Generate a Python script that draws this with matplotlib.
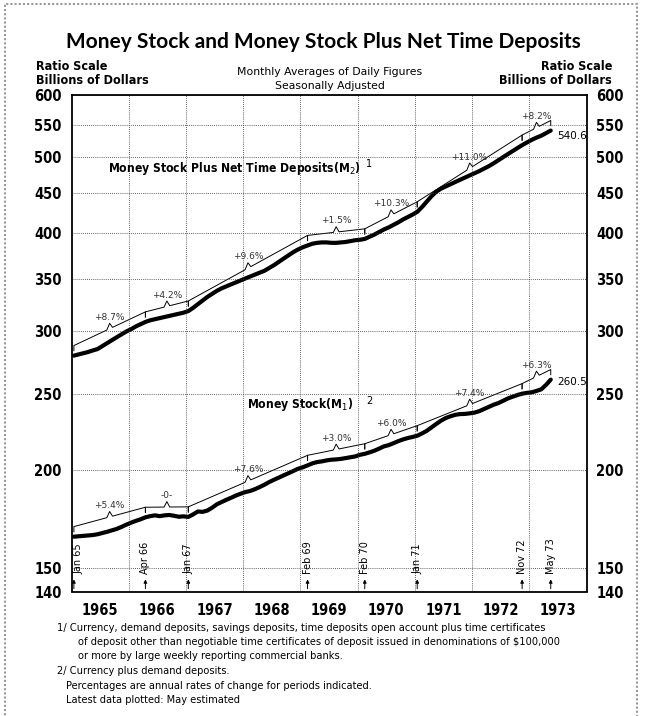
import matplotlib.pyplot as plt
from matplotlib import font_manager
from matplotlib.font_manager import FontProperties
from matplotlib.patches import Rectangle
from matplotlib.ticker import NullLocator
import numpy as np

# Monthly averages of daily figures, Jan 1965 .. May 1973, billions of dollars
m2 = [
    279.5, 280.5, 281.5, 282.5, 283.8, 285.0, 287.5, 290.0, 292.5, 295.0, 297.5, 300.0,  # 1965
    302.0, 304.5, 306.5, 308.5, 310.0, 311.0, 312.0, 313.0, 314.0, 315.0, 316.0, 317.0,  # 1966
    318.5, 321.5, 325.0, 328.5, 332.0, 335.0, 338.0, 340.5, 342.5, 344.5, 346.5, 348.5,  # 1967
    350.5, 352.5, 354.5, 356.5, 358.5, 361.5, 364.5, 368.0, 371.5, 375.0, 378.5, 381.5,  # 1968
    384.0, 386.0, 388.0, 389.0, 389.5, 389.5, 389.0, 389.0, 389.5, 390.0, 391.0, 392.0,  # 1969
    392.5, 393.5, 396.0, 398.5, 401.5, 404.5, 407.0, 410.0, 413.0, 416.5, 419.5, 422.5,  # 1970
    426.0, 432.0, 439.0, 446.0, 452.0, 456.0, 459.0, 462.0, 465.0, 468.0, 471.0, 474.0,  # 1971
    477.0, 480.0, 483.5, 487.0, 491.0, 495.5, 500.0, 504.5, 509.0, 513.5, 518.0, 522.0,  # 1972
    526.0, 529.5, 532.5, 536.5, 540.6,                                                   # 1973
]
m1 = [
    164.4, 164.6, 164.8, 165.0, 165.2, 165.6, 166.2, 166.8, 167.5, 168.2, 169.2, 170.3,  # 1965
    171.3, 172.2, 173.0, 174.0, 174.6, 175.0, 174.6, 175.0, 175.2, 174.8, 174.3, 174.5,  # 1966
    174.2, 175.5, 177.0, 176.8, 177.5, 179.0, 180.8, 182.0, 183.2, 184.3, 185.5, 186.5,  # 1967
    187.4, 188.0, 189.0, 190.2, 191.5, 193.0, 194.3, 195.5, 196.8, 198.0, 199.3, 200.6,  # 1968
    201.5, 202.6, 203.8, 204.6, 205.0, 205.6, 206.0, 206.2, 206.5, 207.0, 207.5, 208.0,  # 1969
    209.0, 209.6, 210.5, 211.5, 212.8, 214.2, 215.0, 216.2, 217.5, 218.6, 219.5, 220.2,  # 1970
    221.0, 222.5, 224.2, 226.5, 228.8, 231.0, 232.8, 234.0, 235.0, 235.5, 235.6, 236.0,  # 1971
    236.5, 237.5, 239.0, 240.5, 242.0, 243.2, 244.8, 246.5, 247.8, 249.0, 250.0, 250.6,  # 1972
    251.0, 252.0, 253.2, 256.5, 260.5,                                                   # 1973
]

# periods for the growth rates (month index from Jan 1965)
period_idx = [0, 15, 24, 49, 61, 72, 94, 100]
period_names = ['Jan 65', 'Apr 66', 'Jan 67', 'Feb 69', 'Feb 70', 'Jan 71', 'Nov 72', 'May 73']
m2_rates = ['+8.7%', '+4.2%', '+9.6%', '+1.5%', '+10.3%', '+11.0%', '+8.2%']
m1_rates = ['+5.4%', '-0-', '+7.6%', '+3.0%', '+6.0%', '+7.4%', '+6.3%']

years = [1965, 1966, 1967, 1968, 1969, 1970, 1971, 1972, 1973]
yticks = [140, 150, 200, 250, 300, 350, 400, 450, 500, 550, 600]

# a narrow bold face for the axis lettering, if one is installed
narrow = [f for f in font_manager.fontManager.ttflist
          if (f.stretch in ('condensed', 'semi-condensed', 'extra-condensed')
              or 'Narrow' in f.name or 'Condensed' in f.name)
          and f.weight in ('bold', 700) and f.style == 'normal']


def cond(size):
    if narrow:
        return FontProperties(fname=narrow[0].fname, size=size)
    return FontProperties(family='Roboto', weight='bold', size=size)


PLAIN = 'DejaVu Sans'

t = 1965 + (np.arange(len(m2)) + 0.5) / 12

fig = plt.figure(figsize=(6.46, 7.16), dpi=100)
ax = fig.add_axes([71.5 / 646, 1 - 591.5 / 716, 515 / 646, 496.5 / 716])

ax.set_yscale('log')
ax.set_ylim(140, 600)
ax.set_xlim(1965, 1974)

ax.plot(t, m2, color='black', lw=3.0, solid_capstyle='round')
ax.plot(t, m1, color='black', lw=3.0, solid_capstyle='round')


def growth_lines(series, labels, lift=1.03):
    for i, lab in enumerate(labels):
        a, b = period_idx[i], period_idx[i + 1]
        t0, t1 = t[a], t[b]
        v0, v1 = series[a] * lift, series[b] * lift
        tm = (t0 + t1) / 2
        vm = np.sqrt(v0 * v1)
        d = 0.05

        def f(tt):
            return v0 * (v1 / v0) ** ((tt - t0) / (t1 - t0))

        xs = [t0, t0, tm - d, tm, tm + d, t1, t1]
        ys = [v0 * 0.985, v0, f(tm - d), vm * 1.016, f(tm + d), v1, v1 * 0.985]
        ax.plot(xs, ys, color='black', lw=0.7)
        ax.annotate(lab, (tm, vm * 1.016), xytext=(0, 1), textcoords='offset points',
                    ha='center', va='bottom', fontsize=6.5, color='#333333', family=PLAIN)


growth_lines(m2, m2_rates)
growth_lines(m1, m1_rates)

# latest values
ax.annotate(f'{m2[-1]:.1f}', (t[-1], m2[-1]), xytext=(5, -4), textcoords='offset points',
            va='center', fontsize=7.5, family=PLAIN)
ax.annotate(f'{m1[-1]:.1f}', (t[-1], m1[-1]), xytext=(5, -2), textcoords='offset points',
            va='center', fontsize=7.5, family=PLAIN)

# series labels
ax.text(1965.63, 484, 'Money Stock Plus Net Time Deposits(M$_2$)', va='center',
        fontproperties=cond(8.7))
ax.text(1970.15, 490, '1', fontsize=7, family=PLAIN, va='center')
ax.text(1968.06, 242, 'Money Stock(M$_1$)', va='center', fontproperties=cond(8.7))
ax.text(1970.15, 245, '2', fontsize=7, family=PLAIN, va='center')

# period markers along the bottom
trans = ax.get_xaxis_transform()
for name, idx in zip(period_names, period_idx):
    x = t[idx]
    ax.annotate('', xy=(x, 0.03), xytext=(x, 0.0), xycoords=trans, textcoords=trans,
                arrowprops=dict(arrowstyle='-|>', color='black', lw=0.7, mutation_scale=5))
    ax.text(x + (0.08 if idx == 0 else 0.0), 0.035, name, transform=trans, rotation=90,
            ha='center', va='bottom', fontsize=7, family=PLAIN)

# grid
for yv in yticks[1:]:
    ax.axhline(yv, color='#333333', lw=0.6, ls=(0, (1, 1.5)))
for yr in years[1:]:
    ax.axvline(yr, color='#333333', lw=0.6, ls=(0, (1, 1.5)))

ax.yaxis.set_minor_locator(NullLocator())
ax.set_yticks(yticks)
ax.set_yticklabels([str(v) for v in yticks], fontproperties=cond(10.5))
ax.tick_params(axis='y', length=0, pad=7, labelright=True)
ax.set_xticks([y + 0.5 for y in years])
ax.set_xticklabels([str(y) for y in years], fontproperties=cond(10.5))
ax.tick_params(axis='x', length=0, pad=8)
for s in ax.spines.values():
    s.set_linewidth(1.3)

# titles
fig.text(0.5, 1 - 42 / 716, 'Money Stock and Money Stock Plus Net Time Deposits',
         ha='center', va='center', fontsize=15, fontweight='bold', family=['Lato', 'DejaVu Sans'])
fig.text(36 / 646, 1 - 66 / 716, 'Ratio Scale', va='center', fontproperties=cond(9))
fig.text(36 / 646, 1 - 80 / 716, 'Billions of Dollars', va='center', fontproperties=cond(9))
fig.text(612 / 646, 1 - 66 / 716, 'Ratio Scale', va='center', ha='right',
         fontproperties=cond(9))
fig.text(612 / 646, 1 - 80 / 716, 'Billions of Dollars', va='center', ha='right',
         fontproperties=cond(9))
fig.text(330 / 646, 1 - 72 / 716, 'Monthly Averages of Daily Figures', fontsize=7.8,
         family=PLAIN, va='center', ha='center')
fig.text(330 / 646, 1 - 86 / 716, 'Seasonally Adjusted', fontsize=7.8,
         family=PLAIN, va='center', ha='center')

# footnotes
notes = [
    (57, 628, '1/ Currency, demand deposits, savings deposits, time deposits open account plus time certificates'),
    (78, 642, 'of deposit other than negotiable time certificates of deposit issued in denominations of $100,000'),
    (78, 656, 'or more by large weekly reporting commercial banks.'),
    (57, 671, '2/ Currency plus demand deposits.'),
    (66, 686, 'Percentages are annual rates of change for periods indicated.'),
    (66, 700, 'Latest data plotted: May estimated'),
]
for x, y, s in notes:
    fig.text(x / 646, 1 - y / 716, s, fontsize=7.1, family=PLAIN, va='center')

fig.add_artist(Rectangle((5 / 646, -0.01), 632 / 646, 1 - 4 / 716 + 0.01,
                         transform=fig.transFigure, fill=False, edgecolor='#999999',
                         lw=1.5, ls=(0, (1, 1))))

fig.savefig('out.png', dpi=100)
